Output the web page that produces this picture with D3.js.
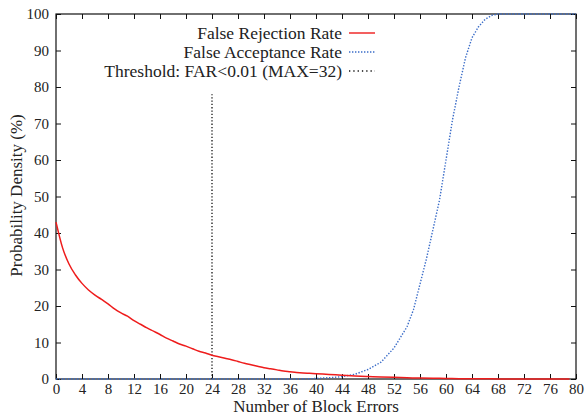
<!DOCTYPE html>
<html>
<head>
<meta charset="utf-8">
<script src="https://cdn.jsdelivr.net/npm/d3@7"></script>
<style>
  @font-face { font-family: "PlotSerif"; src: local("Liberation Serif"), local("LiberationSerif"), local("Times New Roman"), local("Tinos"), local("FreeSerif"); }
</style>
</head>
<body style="margin:0">
<script>
// data
var frrX = [0,1,2,3,4,5,6,7,8,9,10,11,12,13,14,15,16,17,18,19,20,21,22,23,24,25,26,27,28,29,30,31,32,33,34,35,36,37,38,39,40,42,44,46,48,50,52,54,56,58,60,62,64,66,68,70,72,74,76,78,79];
var frrY = [43,36,31.5,28.5,26.2,24.4,23,21.8,20.6,19.2,18.1,17.2,16,15,14,13.1,12.2,11.2,10.4,9.6,9,8.3,7.6,7.1,6.5,6.1,5.7,5.3,4.8,4.3,3.9,3.5,3.1,2.8,2.5,2.2,2,1.8,1.65,1.55,1.45,1.25,1.05,0.85,0.7,0.55,0.45,0.35,0.25,0.2,0.15,0.1,0.08,0.05,0.03,0.02,0.01,0.01,0,0,0];

var farX = [0,10,20,30,36,38,40,42,44,46,48,50,52,54,55,56,57,58,59,60,61,62,63,64,65,66,67,68,70,72,74,76,78,80];
var farY = [0,0,0,0,0,0.02,0.15,0.35,0.65,1.3,2.6,4.6,8.5,14.3,19,26,33,41,49,60,71,80,88,93.5,96.5,98.5,99.6,100,100,100,100,100,100,100];

var thresholdX = 24, thresholdTop = 78;

var xTicks = d3.range(0, 81, 4);
var yTicks = d3.range(0, 101, 10);

var legendNames = ["False Rejection Rate", "False Acceptance Rate", "Threshold: FAR<0.01 (MAX=32)"];

var width = 585, height = 415;
var margin = {top: 14, right: 9, bottom: 36, left: 56};
var serif = "'Liberation Serif', 'Times New Roman', Tinos, FreeSerif, 'Nimbus Roman', PlotSerif";

var svg = d3.select("body").append("svg")
    .attr("width", width)
    .attr("height", height)
    .style("font-family", serif);

var x = d3.scaleLinear().domain([0, 80]).range([margin.left, width - margin.right]);
var y = d3.scaleLinear().domain([0, 100]).range([height - margin.bottom, margin.top]);

// axes, ticks pointing inward, mirrored on top and right
svg.append("g")
    .attr("transform", "translate(0," + y(0) + ")")
    .call(d3.axisBottom(x).tickValues(xTicks).tickSizeInner(-5).tickSizeOuter(0).tickPadding(4));
svg.append("g")
    .attr("transform", "translate(0," + y(100) + ")")
    .call(d3.axisTop(x).tickValues(xTicks).tickSizeInner(-5).tickSizeOuter(0).tickFormat(""));
svg.append("g")
    .attr("transform", "translate(" + x(0) + ",0)")
    .call(d3.axisLeft(y).tickValues(yTicks).tickSizeInner(-5).tickSizeOuter(0).tickPadding(7));
svg.append("g")
    .attr("transform", "translate(" + x(80) + ",0)")
    .call(d3.axisRight(y).tickValues(yTicks).tickSizeInner(-5).tickSizeOuter(0).tickFormat(""));

svg.selectAll(".domain").remove();
svg.selectAll("g").attr("font-family", null).attr("font-size", null);
svg.selectAll(".tick line").attr("stroke", "#111").attr("stroke-width", 1);
svg.selectAll(".tick text")
    .style("font-family", serif).attr("font-size", 15).attr("fill", "#222");

svg.append("rect")
    .attr("x", x(0)).attr("y", y(100))
    .attr("width", x(80) - x(0)).attr("height", y(0) - y(100))
    .attr("fill", "none").attr("stroke", "#111").attr("stroke-width", 1.2);

// axis titles
svg.append("text")
    .attr("x", (x(0) + x(80)) / 2).attr("y", 412)
    .attr("text-anchor", "middle").attr("fill", "#222")
    .style("font-family", serif).attr("font-size", 17)
    .text("Number of Block Errors");
svg.append("text")
    .attr("transform", "translate(22," + (y(50) - 1) + ") rotate(-90)")
    .attr("text-anchor", "middle").attr("fill", "#222")
    .style("font-family", serif).attr("font-size", 17)
    .text("Probability Density (%)");

var line = d3.line().x(function(d) { return x(d[0]); }).y(function(d) { return y(d[1]); });

// threshold
svg.append("path")
    .attr("d", line([[thresholdX, 0], [thresholdX, thresholdTop]]))
    .attr("stroke", "#111").attr("stroke-width", 1.3)
    .attr("stroke-dasharray", "1.3,2").attr("fill", "none");

// FAR
svg.append("path")
    .attr("d", line(farX.map(function(v, i) { return [v, farY[i]]; })))
    .attr("stroke", "#3a6cc8").attr("stroke-width", 1.4)
    .attr("stroke-dasharray", "1.4,1.6").attr("fill", "none");

// FRR
svg.append("path")
    .attr("d", d3.line().curve(d3.curveMonotoneX).x(function(d) { return x(d[0]); }).y(function(d) { return y(d[1]); })
      (frrX.map(function(v, i) { return [v, frrY[i]]; })))
    .attr("stroke", "#ee1c1c").attr("stroke-width", 1.5).attr("fill", "none");

// legend
var styles = [
  {stroke: "#ee1c1c", dash: null},
  {stroke: "#3a6cc8", dash: "1.4,1.6"},
  {stroke: "#111", dash: "1.3,3"}
];
var legend = svg.append("g");
legendNames.forEach(function(name, i) {
  var cy = 33 + i * 19;
  legend.append("text")
      .attr("x", 342).attr("y", cy + 5.5)
      .attr("text-anchor", "end").attr("fill", "#222")
      .style("font-family", serif).attr("font-size", 17.5)
      .text(name);
  legend.append("line")
      .attr("x1", 349).attr("x2", 375).attr("y1", cy).attr("y2", cy)
      .attr("stroke", styles[i].stroke).attr("stroke-width", 1.4)
      .attr("stroke-dasharray", styles[i].dash);
});
</script>
</body>
</html>
